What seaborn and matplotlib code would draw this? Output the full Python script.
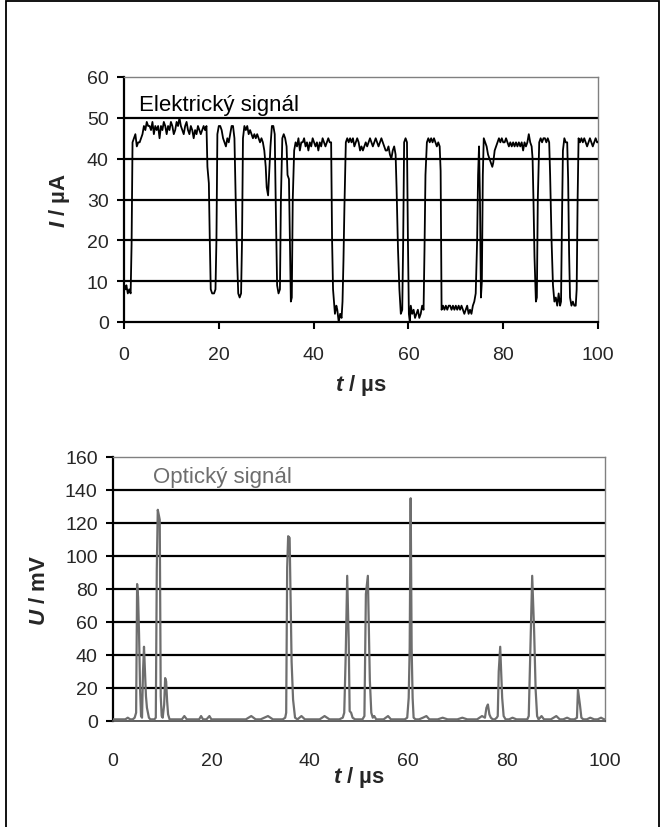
import matplotlib
matplotlib.use("Agg")
import matplotlib.pyplot as plt
import seaborn as sns
import pandas as pd
from matplotlib.patches import Rectangle

# Electric signal: time (µs) and current (µA)
el_t = [0.0, 0.3, 0.5, 0.8, 1.1, 1.4, 1.6, 1.8, 2.1, 2.4, 2.7, 3.0, 3.3, 3.6, 3.9,
        4.2, 4.5, 4.8, 5.1, 5.4, 5.7, 6.0, 6.3, 6.6, 6.9, 7.2, 7.5, 7.8, 8.1, 8.4,
        8.7, 9.0, 9.3, 9.6, 9.9, 10.2, 10.5, 10.8, 11.1, 11.4, 11.7, 12.0, 12.3,
        12.6, 12.9, 13.2, 13.5, 13.8, 14.1, 14.4, 14.7, 15.0, 15.3, 15.6, 15.9,
        16.2, 16.5, 16.8, 17.1, 17.4, 17.6, 17.9, 18.1, 18.3, 18.6, 19.0, 19.3,
        19.5, 19.7, 20.0, 20.3, 20.6, 20.9, 21.2, 21.5, 21.8, 22.1, 22.4, 22.7,
        23.0, 23.3, 23.6, 23.9, 24.1, 24.4, 24.7, 24.9, 25.1, 25.4, 25.7, 26.0,
        26.3, 26.6, 26.9, 27.2, 27.5, 27.8, 28.1, 28.4, 28.7, 29.0, 29.3, 29.6,
        29.9, 30.1, 30.4, 30.6, 30.9, 31.2, 31.5, 31.8, 32.0, 32.3, 32.6, 32.9,
        33.1, 33.4, 33.7, 34.0, 34.3, 34.5, 34.8, 35.0, 35.2, 35.4, 35.6, 35.9,
        36.2, 36.5, 36.8, 37.1, 37.4, 37.7, 38.0, 38.3, 38.6, 38.9, 39.2, 39.5,
        39.8, 40.1, 40.4, 40.7, 41.0, 41.3, 41.6, 41.9, 42.2, 42.5, 42.8, 43.1,
        43.4, 43.7, 43.9, 44.1, 44.3, 44.5, 44.8, 45.0, 45.3, 45.6, 45.9, 46.1,
        46.3, 46.5, 46.8, 47.1, 47.4, 47.7, 48.0, 48.3, 48.6, 48.9, 49.2, 49.5,
        49.8, 50.1, 50.4, 50.7, 51.0, 51.3, 51.6, 51.9, 52.2, 52.5, 52.8, 53.1,
        53.4, 53.7, 54.0, 54.3, 54.6, 54.9, 55.2, 55.5, 55.8, 56.1, 56.4, 56.7,
        57.0, 57.3, 57.5, 57.8, 58.1, 58.4, 58.7, 58.9, 59.1, 59.4, 59.7, 59.9,
        60.1, 60.3, 60.5, 60.8, 61.1, 61.4, 61.7, 62.0, 62.3, 62.6, 62.9, 63.2,
        63.4, 63.6, 63.9, 64.2, 64.5, 64.8, 65.1, 65.4, 65.7, 66.0, 66.3, 66.6,
        66.8, 67.0, 67.3, 67.6, 67.9, 68.2, 68.5, 68.8, 69.1, 69.4, 69.7, 70.0,
        70.3, 70.6, 70.9, 71.2, 71.5, 71.8, 72.1, 72.4, 72.7, 73.0, 73.3, 73.6,
        73.9, 74.2, 74.5, 74.7, 74.9, 75.1, 75.3, 75.5, 75.7, 75.9, 76.2, 76.5,
        76.8, 77.1, 77.4, 77.7, 77.9, 78.2, 78.5, 78.8, 79.1, 79.4, 79.7, 80.0,
        80.3, 80.6, 80.9, 81.2, 81.5, 81.8, 82.1, 82.4, 82.7, 83.0, 83.3, 83.6,
        83.9, 84.2, 84.5, 84.8, 85.1, 85.4, 85.7, 86.0, 86.2, 86.4, 86.6, 86.9,
        87.1, 87.3, 87.6, 87.9, 88.2, 88.5, 88.8, 89.1, 89.4, 89.7, 89.9, 90.2,
        90.5, 90.8, 91.1, 91.4, 91.7, 92.0, 92.2, 92.4, 92.6, 92.9, 93.2, 93.5,
        93.7, 93.9, 94.1, 94.4, 94.7, 95.0, 95.3, 95.5, 95.7, 95.9, 96.2, 96.5,
        96.8, 97.1, 97.4, 97.7, 98.0, 98.3, 98.6, 98.9, 99.2, 99.5, 99.8, 100.0]
el_i = [9, 8, 9, 7, 8, 7, 19, 44, 45, 46, 43, 44, 44, 45, 46,
        48, 47, 49, 48, 48, 47, 49, 46, 48, 47, 48, 45, 48, 47, 49,
        48, 46, 48, 47, 49, 48, 46, 47, 49, 48, 50, 48, 47,
        46, 48, 49, 47, 46, 48, 47, 45, 47, 46, 48, 47,
        46, 47, 48, 47, 48, 38, 34, 20, 8, 7, 7, 8,
        20, 46, 48, 48, 47, 45, 44, 43, 45, 44, 46, 48,
        48, 45, 28, 14, 7, 6, 7, 20, 45, 48, 47, 48,
        46, 47, 46, 45, 46, 45, 46, 45, 44, 45, 44, 42,
        38, 33, 31, 36, 43, 48, 48, 46, 30, 9, 7, 8,
        30, 45, 46, 45, 43, 36, 35, 20, 5, 6, 30, 42,
        44, 43, 45, 42, 44, 44, 45, 43, 44, 42, 44, 43,
        45, 44, 43, 44, 42, 44, 43, 45, 44, 43, 44, 45,
        44, 44, 20, 8, 5, 2, 4, 3, 0, 2, 1, 5,
        15, 28, 44, 45, 44, 45, 44, 45, 43, 44, 45, 44,
        42, 43, 42, 43, 44, 43, 44, 45, 44, 43, 44, 45,
        44, 43, 44, 45, 44, 43, 42, 42, 43, 41, 40, 42,
        43, 41, 33, 18, 8, 2, 3, 20, 44, 45, 44, 20,
        2, 0, 4, 2, 3, 1, 2, 3, 1, 2, 4, 3,
        18, 36, 44, 45, 44, 45, 44, 45, 44, 43, 44, 43,
        37, 3, 4, 3, 4, 3, 4, 4, 3, 4, 3, 4,
        3, 4, 3, 4, 3, 2, 3, 4, 2, 3, 2, 4,
        5, 7, 20, 36, 43, 30, 6, 10, 36, 45, 44, 43,
        41, 40, 39, 38, 39, 42, 43, 44, 45, 44, 45, 44,
        44, 45, 44, 43, 44, 43, 44, 43, 44, 43, 44, 43,
        44, 42, 44, 43, 44, 46, 44, 43, 40, 29, 16, 5,
        6, 30, 44, 45, 44, 45, 45, 44, 45, 44, 36, 20,
        9, 5, 6, 4, 7, 4, 5, 25, 42, 45, 44, 44,
        35, 17, 6, 4, 5, 4, 4, 8, 30, 45, 44, 45,
        44, 45, 44, 43, 44, 45, 44, 43, 44, 45, 44, 44]

# Optical signal: (time in µs, voltage in mV)
op_samples = [
    (0.0, 1), (0.5, 1), (1.0, 1), (1.5, 1), (2.0, 1), (2.5, 1), (3.0, 2),
    (3.5, 1), (4.0, 1), (4.4, 2), (4.7, 5), (4.9, 83), (5.1, 75), (5.3, 52),
    (5.5, 20), (5.7, 3), (5.9, 2), (6.1, 30), (6.3, 45), (6.5, 30), (6.7, 15),
    (6.9, 8), (7.1, 5), (7.3, 2), (7.6, 1), (8.0, 1), (8.4, 1), (8.7, 2),
    (8.9, 92), (9.1, 128), (9.3, 125), (9.5, 122), (9.7, 15), (9.9, 3),
    (10.1, 2), (10.4, 10), (10.6, 26), (10.8, 24), (11.0, 12), (11.2, 4),
    (11.5, 1), (12.0, 1), (12.5, 1), (13.0, 1), (13.5, 1), (14.0, 1),
    (14.5, 3), (15.0, 1), (15.5, 1), (16.0, 1), (16.5, 1), (17.0, 1),
    (17.5, 1), (17.9, 3), (18.3, 1), (19.0, 1), (19.6, 3), (20.0, 1),
    (20.5, 1), (21.0, 1), (22.0, 1), (23.0, 1), (24.0, 1), (25.0, 1),
    (26.0, 1), (27.0, 1), (28.1, 3), (29.0, 1), (30.0, 1), (31.5, 3),
    (32.5, 1), (33.5, 1), (34.5, 1), (35.0, 2), (35.2, 5), (35.4, 93),
    (35.6, 112), (35.9, 111), (36.3, 36), (36.6, 13), (37.0, 2), (37.5, 1),
    (38.3, 3), (39.0, 1), (40.0, 1), (41.0, 1), (42.0, 1), (43.0, 3),
    (44.0, 1), (45.0, 1), (46.0, 1), (46.7, 2), (47.0, 5), (47.3, 40),
    (47.6, 88), (47.9, 50), (48.1, 6), (48.4, 5), (48.7, 2), (49.2, 1),
    (50.0, 1), (50.7, 1), (51.1, 3), (51.4, 77), (51.8, 88), (52.2, 25),
    (52.5, 5), (52.8, 2), (53.1, 3), (53.5, 1), (54.2, 1), (55.0, 1),
    (55.9, 3), (56.5, 1), (57.5, 1), (58.5, 1), (59.3, 1), (59.8, 2),
    (60.1, 14), (60.3, 44), (60.5, 135), (60.7, 44), (60.9, 14), (61.1, 2),
    (61.5, 1), (62.2, 1), (63.0, 2), (63.7, 3), (64.3, 1), (65.0, 1),
    (66.0, 1), (67.0, 2), (68.0, 1), (69.0, 1), (70.0, 1), (71.0, 2),
    (72.0, 1), (73.0, 1), (74.0, 1), (75.0, 3), (75.6, 2), (75.9, 8),
    (76.2, 10), (76.5, 4), (76.8, 2), (77.2, 1), (77.6, 1), (78.0, 2),
    (78.2, 3), (78.4, 30), (78.7, 45), (79.1, 14), (79.4, 3), (79.8, 1),
    (80.5, 1), (81.2, 2), (82.0, 1), (82.8, 1), (83.5, 1), (84.2, 1),
    (84.5, 3), (84.8, 39), (85.2, 88), (85.6, 54), (85.9, 19), (86.2, 3),
    (86.5, 1), (87.1, 3), (87.6, 1), (88.3, 1), (89.0, 1), (90.1, 3),
    (90.8, 1), (91.5, 1), (92.3, 2), (93.0, 1), (93.8, 1), (94.3, 2),
    (94.5, 19), (94.9, 10), (95.2, 2), (95.6, 1), (96.3, 1), (97.0, 2),
    (97.8, 1), (98.5, 1), (99.2, 2), (99.8, 1), (100.0, 1),
]
op_t = [t for t, _ in op_samples]
op_u = [u for _, u in op_samples]

el_yticks = [0, 10, 20, 30, 40, 50, 60]
op_yticks = [0, 20, 40, 60, 80, 100, 120, 140, 160]
t_ticks = [0, 20, 40, 60, 80, 100]

electric = pd.DataFrame({"t": el_t, "I": el_i})
optical = pd.DataFrame({"t": op_t, "U": op_u})

sns.set_style("white")
plt.rcParams["font.family"] = ["Liberation Sans", "DejaVu Sans"]
plt.rcParams["mathtext.fontset"] = "custom"
plt.rcParams["mathtext.bfit"] = "Liberation Sans:italic:bold"
plt.rcParams["mathtext.it"] = "Liberation Sans:italic"
plt.rcParams["mathtext.rm"] = "Liberation Sans"

W, H = 665, 828
fig = plt.figure(figsize=(W / 100, H / 100), dpi=100)
fig.patch.set_facecolor("white")

# outer frame of the figure
fig.patches.append(Rectangle((6 / W, -0.01), (659 - 6) / W, 1.01 - 2 / H,
                             transform=fig.transFigure, fill=False,
                             edgecolor="black", linewidth=1.3))


def px_box(left, top, right, bottom):
    return [left / W, 1 - bottom / H, (right - left) / W, (bottom - top) / H]


ax1 = fig.add_axes(px_box(124, 78, 598, 323))
ax2 = fig.add_axes(px_box(113, 458, 605, 722))

FS = 14
LFS = 16


def style_axis(ax, yticks, ymax):
    ax.set_xlim(0, 100)
    ax.set_ylim(0, ymax)
    ax.set_xticks(t_ticks)
    ax.set_yticks(yticks)
    for y in yticks[1:-1]:
        ax.axhline(y, color="black", linewidth=1.6, zorder=1)
    for side in ("top", "right"):
        ax.spines[side].set_color("#808080")
        ax.spines[side].set_linewidth(1.0)
    for side in ("left", "bottom"):
        ax.spines[side].set_color("black")
        ax.spines[side].set_linewidth(1.6)
    ax.tick_params(axis="y", direction="out", length=5, width=1.5,
                   color="black", labelsize=FS, pad=6, left=True)
    ax.grid(False)


# upper panel: current through the junction
sns.lineplot(data=electric, x="t", y="I", ax=ax1, color="black",
             linewidth=1.3, estimator=None, sort=False, zorder=3)
style_axis(ax1, el_yticks, 60)
ax1.tick_params(axis="x", direction="out", length=5, width=1.5,
                color="black", labelsize=FS, pad=12.5, bottom=True)
ax1.text(3.2, 51.8, "Elektrický signál", fontsize=LFS, color="black",
         va="baseline", ha="left")
ax1.set_xlabel(r"$\mathbfit{t}$ / µs", fontsize=LFS, fontweight="bold", labelpad=6)
ax1.set_ylabel(r"$\mathbfit{I}$ / µA", fontsize=LFS, fontweight="bold", labelpad=11)

# lower panel: photodetector output
sns.lineplot(data=optical, x="t", y="U", ax=ax2, color="#6e6e6e",
             linewidth=1.6, estimator=None, sort=False, zorder=3)
style_axis(ax2, op_yticks, 160)
ax2.spines["bottom"].set_color("#505050")
ax2.spines["bottom"].set_linewidth(1.3)
ax2.tick_params(axis="x", length=0, labelsize=FS, pad=22, bottom=False)
ax2.text(8.2, 145, "Optický signál", fontsize=LFS, color="#6e6e6e",
         va="baseline", ha="left")
ax2.set_xlabel(r"$\mathbfit{t}$ / µs", fontsize=LFS, fontweight="bold", labelpad=-3)
ax2.set_ylabel(r"$\mathbfit{U}$ / mV", fontsize=LFS, fontweight="bold", labelpad=11)

fig.savefig("out.png", dpi=100, facecolor="white")
